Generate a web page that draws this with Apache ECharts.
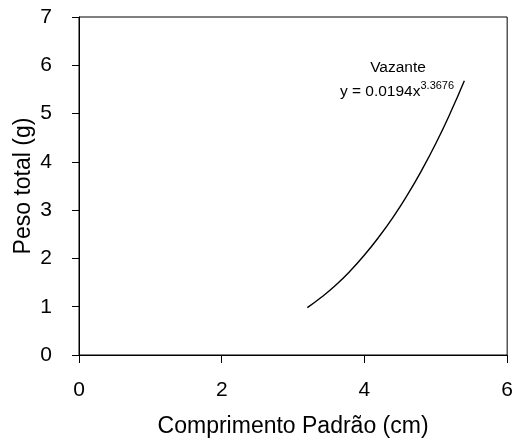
<!DOCTYPE html>
<html><head><meta charset="utf-8">
<script src="https://cdn.jsdelivr.net/npm/echarts@6/dist/echarts.min.js"></script>
<style>html,body{margin:0;padding:0;background:#fff}#c{width:516px;height:443px}</style>
</head><body><div id="c"></div>
<script>
var xTicks = [0, 2, 4, 6];
var yTicks = [0, 1, 2, 3, 4, 5, 6, 7];
var lengthCm = [3.2, 3.4, 3.6, 3.8, 4.0, 4.2, 4.4, 4.6, 4.8, 5.0, 5.2, 5.4];
var weightG  = [0.98, 1.20, 1.45, 1.74, 2.07, 2.44, 2.85, 3.31, 3.82, 4.38, 5.00, 5.68];
var seriesName = 'Vazante';
var equationBase = 'y = 0.0194x';
var equationExp = '3.3676';

var chart = echarts.init(document.getElementById('c'), null, {renderer: 'canvas'});
var font = 'Liberation Sans, Arial, sans-serif';
chart.setOption({
  animation: false,
  grid: {left: 79, right: 8, top: 17, bottom: 88, show: true, borderColor: '#000', borderWidth: 1},
  xAxis: {
    type: 'value', min: xTicks[0], max: xTicks[xTicks.length-1], interval: 2,
    name: 'Comprimento Padrão (cm)', nameLocation: 'middle', nameGap: 60, nameMoveOverlap: false,
    nameTextStyle: {fontFamily: font, fontSize: 23, color: '#000'},
    axisLine: {lineStyle: {color: '#000', width: 1}},
    axisTick: {show: true, inside: false, length: 8, lineStyle: {color: '#000'}},
    axisLabel: {fontFamily: font, fontSize: 21, color: '#000', margin: 25},
    splitLine: {show: false}
  },
  yAxis: {
    type: 'value', min: yTicks[0], max: yTicks[yTicks.length-1], interval: 1,
    name: 'Peso total (g)', nameLocation: 'middle', nameGap: 44, nameRotate: 90, nameMoveOverlap: false,
    nameTextStyle: {fontFamily: font, fontSize: 23, color: '#000'},
    axisLine: {show: true, lineStyle: {color: '#000', width: 1}},
    axisTick: {show: true, inside: false, length: 7, lineStyle: {color: '#000'}},
    axisLabel: {fontFamily: font, fontSize: 21, color: '#000', margin: 27},
    splitLine: {show: false}
  },
  series: [{
    name: seriesName, type: 'line', smooth: true, symbol: 'none',
    lineStyle: {color: '#000', width: 1.4},
    data: lengthCm.map(function (x, i) { return [x, weightG[i]]; })
  }],
  graphic: [{
    type: 'text', x: 398, y: 60,
    style: {text: seriesName, align: 'center', verticalAlign: 'top', font: '15.5px Liberation Sans, Arial, sans-serif', fill: '#000'}
  }, {
    type: 'text', x: 397, y: 80,
    style: {
      align: 'center', verticalAlign: 'top',
      text: '{b|' + equationBase + '}{s|' + equationExp + '}',
      rich: {
        b: {fontFamily: font, fontSize: 15.5, fill: '#000', verticalAlign: 'bottom', lineHeight: 20},
        s: {fontFamily: font, fontSize: 11, fill: '#000', verticalAlign: 'top', lineHeight: 20, padding: [0,0,9,0]}
      }
    }
  }]
});
</script></body></html>
